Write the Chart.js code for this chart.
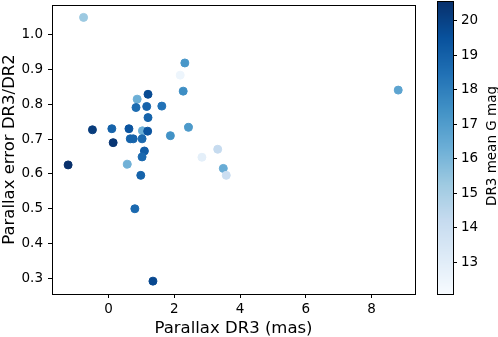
<!DOCTYPE html>
<html>
<head>
<meta charset="utf-8">
<script src="https://cdn.jsdelivr.net/npm/chart.js@4.4.1/dist/chart.umd.min.js"></script>
<style>
  html, body { margin: 0; padding: 0; background: #fff; }
  #wrap { position: relative; width: 498px; height: 337px; }
  #main { position: absolute; left: 0; top: 0; }
  #cbar { position: absolute; left: 425px; top: 0; }
</style>
</head>
<body>
<div id="wrap">
  <canvas id="main" width="425" height="337"></canvas>
  <canvas id="cbar" width="73" height="337"></canvas>
</div>
<script>
// data
const parallaxDR3 = [-0.76, 2.32, 2.18, 2.27, 1.20, 0.87, 0.835, 1.16, 1.62, 1.20,
  -0.49, 0.10, 0.62, 1.03, 1.19, 2.43, 1.88, 0.14, 0.66, 0.75,
  1.02, 1.09, 1.02, 3.32, 2.84, -1.23, 0.57, 0.98, 3.49, 3.58,
  8.81, 0.80, 1.35];
const errorRatio = [1.050, 0.919, 0.884, 0.838, 0.829, 0.815, 0.791, 0.794, 0.795, 0.762,
  0.727, 0.730, 0.730, 0.724, 0.723, 0.734, 0.710, 0.690, 0.701, 0.701,
  0.701, 0.666, 0.649, 0.671, 0.648, 0.626, 0.628, 0.596, 0.616, 0.596,
  0.841, 0.500, 0.292];
const gMag = [15.3, 17.2, 12.5, 17.5, 19.7, 16.3, 18.6, 18.9, 18.4, 18.9,
  20.2, 18.9, 19.4, 16.3, 19.4, 17.1, 17.4, 20.4, 18.9, 18.9,
  18.7, 19.1, 18.7, 14.2, 12.9, 20.57, 16.2, 18.9, 16.4, 14.0,
  16.7, 18.7, 19.8];

const xTicks = [0, 2, 4, 6, 8];
const yTicks = [0.3, 0.4, 0.5, 0.6, 0.7, 0.8, 0.9, 1.0];
const cbarTicks = [13, 14, 15, 16, 17, 18, 19, 20];

const gMin = 12.08, gMax = 20.57;
const bluesStops = ['#f7fbff', '#deebf7', '#c6dbef', '#9ecae1', '#6baed6',
  '#4292c6', '#2171b5', '#08519c', '#08306b'];

function hexRgb(h) {
  return [parseInt(h.slice(1, 3), 16), parseInt(h.slice(3, 5), 16), parseInt(h.slice(5, 7), 16)];
}
const bluesRgb = bluesStops.map(hexRgb);

function blues(v) {
  let t = (v - gMin) / (gMax - gMin);
  t = Math.max(0, Math.min(1, t));
  const pos = t * (bluesRgb.length - 1);
  const i = Math.min(Math.floor(pos), bluesRgb.length - 2);
  const f = pos - i;
  const a = bluesRgb[i], b = bluesRgb[i + 1];
  const c = a.map((x, k) => Math.round(x + (b[k] - x) * f));
  return 'rgb(' + c.join(',') + ')';
}

Chart.defaults.font.family = '"DejaVu Sans", sans-serif';
Chart.defaults.color = '#000';

// vertical axes: fixed width and no extra room for the end labels
function fixVertical(w) {
  return s => { s.width = w; s.paddingTop = 0; s.paddingBottom = 0; };
}

// draws the frame round the plot area
const boxPlugin = {
  id: 'box',
  afterDraw(chart) {
    const a = chart.chartArea, ctx = chart.ctx;
    ctx.save();
    ctx.strokeStyle = '#000';
    ctx.lineWidth = 1;
    ctx.strokeRect(Math.round(a.left) + 0.5, Math.round(a.top) + 0.5,
      Math.round(a.right - a.left), Math.round(a.bottom - a.top));
    ctx.restore();
  }
};

const points = parallaxDR3.map((x, i) => ({ x: x, y: errorRatio[i] }));
const pointColors = gMag.map(blues);

new Chart(document.getElementById('main'), {
  type: 'scatter',
  data: {
    datasets: [{
      data: points,
      backgroundColor: pointColors,
      borderColor: pointColors,
      borderWidth: 1,
      pointRadius: 4,
      pointHoverRadius: 4
    }]
  },
  options: {
    responsive: false,
    animation: false,
    devicePixelRatio: 1,
    layout: { padding: { top: 2, right: 10, left: 0, bottom: 0 } },
    plugins: { legend: { display: false }, tooltip: { enabled: false } },
    scales: {
      x: {
        type: 'linear',
        min: -1.72,
        max: 9.32,
        afterBuildTicks: s => { s.ticks = xTicks.map(v => ({ value: v })); },
        afterFit: s => { s.height = 43; s.paddingLeft = 0; s.paddingRight = 0; },
        grid: { drawOnChartArea: false, drawTicks: true, tickLength: 4, color: '#000' },
        border: { color: '#000', width: 1 },
        ticks: { color: '#000', font: { size: 13.5 }, padding: 3, maxRotation: 0,
          callback: v => String(v) },
        title: { display: true, text: 'Parallax DR3 (mas)', color: '#000',
          font: { size: 16.5 }, padding: { top: 0, bottom: -2 } }
      },
      y: {
        type: 'linear',
        min: 0.255,
        max: 1.0856,
        afterBuildTicks: s => { s.ticks = yTicks.map(v => ({ value: v })); },
        afterFit: fixVertical(52),
        grid: { drawOnChartArea: false, drawTicks: true, tickLength: 4, color: '#000' },
        border: { color: '#000', width: 1 },
        ticks: { color: '#000', font: { size: 13.5 }, padding: 5,
          callback: v => v.toFixed(1) },
        title: { display: true, text: 'Parallax error DR3/DR2', color: '#000',
          font: { size: 16.5 }, padding: { top: 0, bottom: 0 } }
      }
    }
  },
  plugins: [boxPlugin]
});

// colorbar: gradient painted through the colorbar's own y scale
const cbarPlugin = {
  id: 'cbarFill',
  beforeDatasetsDraw(chart) {
    const a = chart.chartArea, ctx = chart.ctx, ys = chart.scales.y;
    ctx.save();
    for (let py = Math.floor(a.top); py < Math.ceil(a.bottom); py++) {
      ctx.fillStyle = blues(ys.getValueForPixel(py + 0.5));
      ctx.fillRect(a.left, py, a.right - a.left, 1);
    }
    ctx.restore();
  },
  afterDraw(chart) {
    const ctx = chart.ctx;
    ctx.save();
    ctx.translate(67, 146);
    ctx.rotate(-Math.PI / 2);
    ctx.fillStyle = '#000';
    ctx.font = '13.5px "DejaVu Sans", sans-serif';
    ctx.textAlign = 'center';
    ctx.textBaseline = 'middle';
    ctx.fillText('DR3 mean G mag', 0, 0);
    ctx.restore();
  }
};

new Chart(document.getElementById('cbar'), {
  type: 'scatter',
  data: { datasets: [{ data: [] }] },
  options: {
    responsive: false,
    animation: false,
    devicePixelRatio: 1,
    layout: { padding: { top: 1, left: 12, right: 0, bottom: 43 } },
    plugins: { legend: { display: false }, tooltip: { enabled: false } },
    scales: {
      x: { display: false, min: 0, max: 1 },
      y: {
        type: 'linear',
        position: 'right',
        min: gMin,
        max: gMax,
        afterBuildTicks: s => { s.ticks = cbarTicks.map(v => ({ value: v })); },
        afterFit: fixVertical(45),
        grid: { drawOnChartArea: false, drawTicks: true, tickLength: 4, color: '#000' },
        border: { color: '#000', width: 1 },
        ticks: { color: '#000', font: { size: 13.5 }, padding: 4,
          callback: v => String(v) }
      }
    }
  },
  plugins: [cbarPlugin, boxPlugin]
});
</script>
</body>
</html>
